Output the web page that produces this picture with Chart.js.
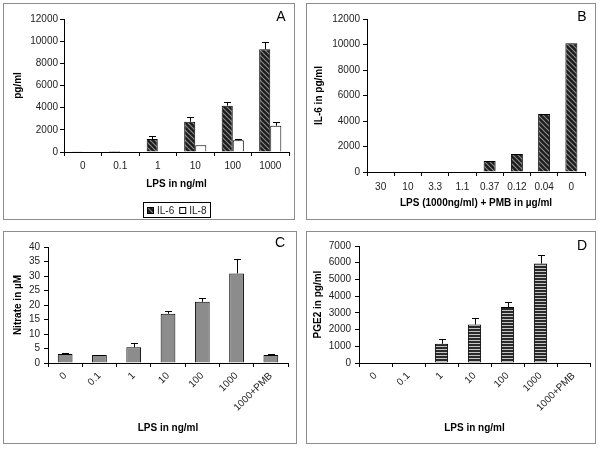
<!DOCTYPE html>
<html>
<head>
<meta charset="utf-8">
<script src="https://cdn.jsdelivr.net/npm/chart.js@4.4.1/dist/chart.umd.min.js"></script>
<style>
  body { margin: 0; background: #fff; width: 600px; height: 449px; position: relative; overflow: hidden; }
  .panel { position: absolute; border: 1px solid #8c8c8c; box-sizing: border-box; }
  .panel canvas { position: absolute; left: 0; top: 0; }
</style>
</head>
<body>
<div class="panel" id="pA"><canvas id="cA"></canvas></div>
<div class="panel" id="pB"><canvas id="cB"></canvas></div>
<div class="panel" id="pC"><canvas id="cC"></canvas></div>
<div class="panel" id="pD"><canvas id="cD"></canvas></div>
<script>
// A: cytokines vs LPS dose
const lpsDoses = ["0", "0.1", "1", "10", "100", "1000"];
const il6 = [60, 90, 1170, 2730, 4180, 9270];
const il6Err = [0, 0, 280, 400, 360, 630];
const il8 = [40, 50, 40, 600, 1050, 2370];
const il8Err = [0, 0, 0, 0, 90, 310];
const pgTicksA = { min: 0, max: 12000, step: 2000 };

// B: IL-6 with polymyxin B
const pmbDoses = ["30", "10", "3.3", "1.1", "0.37", "0.12", "0.04", "0"];
const il6Pmb = [0, 0, 0, 0, 860, 1410, 4550, 10090];

// C: nitrate
const lpsDosesPmb = ["0", "0.1", "1", "10", "100", "1000", "1000+PMB"];
const nitrate = [3.1, 2.8, 5.4, 17.0, 21.1, 30.9, 2.8];
const nitrateErr = [0.4, 0, 1.6, 1.1, 1.4, 5.0, 0.2];

// D: PGE2
const pge2 = [0, 0, 1150, 2300, 3350, 5950, 0];
const pge2Err = [0, 0, 300, 420, 300, 540, 0];

Chart.defaults.font.family = '"Liberation Sans", Arial, sans-serif';
Chart.defaults.font.size = 10;
Chart.defaults.color = '#222';

function hatch() {
  const c = document.createElement('canvas');
  c.width = 5; c.height = 5;
  const g = c.getContext('2d');
  g.fillStyle = '#1c1c1c';
  g.fillRect(0, 0, 5, 5);
  g.strokeStyle = '#8a8a8a';
  g.lineWidth = 1.2;
  [[-1, -1, 6, 6], [-1, 4, 1, 6], [4, -1, 6, 1]].forEach(s => {
    g.beginPath(); g.moveTo(s[0], s[1]); g.lineTo(s[2], s[3]); g.stroke();
  });
  return g.createPattern(c, 'repeat');
}

function stripes() {
  const c = document.createElement('canvas');
  c.width = 4; c.height = 3;
  const g = c.getContext('2d');
  g.fillStyle = '#2a2a2a';
  g.fillRect(0, 0, 4, 3);
  g.fillStyle = '#c4c4c4';
  g.fillRect(0, 0, 4, 1);
  return g.createPattern(c, 'repeat');
}

const errorBars = {
  id: 'errorBars',
  afterDatasetsDraw(chart) {
    const ctx = chart.ctx, y = chart.scales.y;
    chart.data.datasets.forEach((ds, i) => {
      if (!ds.errors) return;
      chart.getDatasetMeta(i).data.forEach((bar, j) => {
        const e = ds.errors[j];
        if (!e) return;
        const top = y.getPixelForValue(ds.data[j] + e);
        ctx.save();
        ctx.strokeStyle = '#000';
        ctx.lineWidth = 1;
        ctx.beginPath();
        ctx.moveTo(Math.round(bar.x) + 0.5, bar.y);
        ctx.lineTo(Math.round(bar.x) + 0.5, Math.round(top) + 0.5);
        ctx.moveTo(Math.round(bar.x) - 3, Math.round(top) + 0.5);
        ctx.lineTo(Math.round(bar.x) + 4, Math.round(top) + 0.5);
        ctx.stroke();
        ctx.restore();
      });
    });
  }
};

const panelTag = {
  id: 'panelTag',
  afterDraw(chart, args, opts) {
    const ctx = chart.ctx;
    ctx.save();
    ctx.font = '14px "Liberation Sans", Arial, sans-serif';
    ctx.fillStyle = '#000';
    ctx.textAlign = 'center';
    ctx.textBaseline = 'middle';
    ctx.fillText(opts.text, opts.x, opts.y);
    ctx.restore();
  }
};

const boxLegend = {
  id: 'boxLegend',
  afterDraw(chart, args, opts) {
    if (!opts.y) return;
    const ctx = chart.ctx;
    ctx.save();
    ctx.font = '10px "Liberation Sans", Arial, sans-serif';
    const sw = 7, gap = 3, space = 5, pad = 4;
    const items = chart.data.datasets.map(ds => ({ ds, w: ctx.measureText(ds.label).width }));
    const total = items.reduce((a, it) => a + sw + gap + it.w, 0) + space * (items.length - 1) + pad * 2;
    const cx = (chart.chartArea.left + chart.chartArea.right) / 2;
    let x = Math.round(cx - total / 2);
    const y = opts.y;
    ctx.strokeStyle = '#000';
    ctx.lineWidth = 1;
    ctx.strokeRect(x + 0.5, y - 7.5, Math.round(total), 15);
    x += pad;
    items.forEach(it => {
      ctx.fillStyle = it.ds.backgroundColor;
      ctx.fillRect(x, y - 3, sw, sw);
      ctx.strokeRect(x + 0.5, y - 2.5, sw - 1, sw - 1);
      x += sw + gap;
      ctx.fillStyle = '#222';
      ctx.textBaseline = 'middle';
      ctx.fillText(it.ds.label, x, y + 1);
      x += it.w + space;
    });
    ctx.restore();
  }
};

function makePanel(id, box, area, L, labels, datasets, yRange, titles) {
  const wrap = document.getElementById('p' + id);
  wrap.style.left = box.x + 'px';
  wrap.style.top = box.y + 'px';
  wrap.style.width = box.w + 'px';
  wrap.style.height = box.h + 'px';
  const ox = box.x + 1, oy = box.y + 1;
  const W = box.w - 2, H = box.h - 2;
  const cv = document.getElementById('c' + id);
  cv.width = W; cv.height = H;
  const left = area.l - ox, right = area.r - ox, top = area.t - oy, bottom = area.b - oy;
  const xBottom = L.xTitleY - oy + 6 + 2;
  new Chart(cv, {
    type: 'bar',
    data: { labels, datasets },
    options: {
      responsive: false,
      animation: false,
      layout: { padding: { left: 0, top: top, right: W - right, bottom: H - xBottom } },
      plugins: {
        legend: { display: false },
        tooltip: { enabled: false },
        panelTag: { text: id, x: L.tag[0] - ox, y: L.tag[1] - oy },
        boxLegend: { y: L.legendY ? L.legendY - oy : 0 }
      },
      scales: {
        x: {
          grid: { offset: true, drawOnChartArea: false, tickLength: 4, color: '#000' },
          border: { color: '#000' },
          ticks: { autoSkip: false, minRotation: L.rot, maxRotation: L.rot, padding: L.xPad, color: '#222' },
          title: { display: true, text: titles[0], color: '#000', font: { weight: 'bold', size: 10 }, padding: { top: 0, bottom: 2 } },
          afterFit(s) { s.height = xBottom - bottom; }
        },
        y: {
          min: yRange.min, max: yRange.max,
          grid: { drawOnChartArea: false, tickLength: 4, color: '#000' },
          border: { color: '#000' },
          ticks: { stepSize: yRange.step, autoSkip: false, padding: L.yPad, color: '#222', callback: v => String(v) },
          title: { display: true, text: titles[1], color: '#000', font: { weight: 'bold', size: 10 }, padding: { top: L.yTitleX - ox - 6, bottom: 0 } },
          afterFit(s) { s.width = left; }
        }
      }
    },
    plugins: [errorBars, panelTag, boxLegend]
  });
}

const barStyle = { borderColor: '#000', borderWidth: 1, barPercentage: 1 };

makePanel('A', { x: 3, y: 3, w: 292, h: 217 }, { l: 64, r: 289, t: 19, b: 152 },
  { tag: [281, 17], xTitleY: 184, yTitleX: 18, legendY: 210, rot: 0, xPad: 4, yPad: 2 },
  lpsDoses,
  [
    Object.assign({ label: 'IL-6', data: il6, errors: il6Err, backgroundColor: hatch(), categoryPercentage: 0.59 }, barStyle),
    Object.assign({ label: 'IL-8', data: il8, errors: il8Err, backgroundColor: '#fff', categoryPercentage: 0.59 }, barStyle)
  ],
  pgTicksA, ['LPS in ng/ml', 'pg/ml']);

makePanel('B', { x: 306, y: 3, w: 290, h: 217 }, { l: 367, r: 585, t: 19, b: 172 },
  { tag: [582, 17], xTitleY: 203, yTitleX: 319, rot: 0, xPad: 5, yPad: 3 },
  pmbDoses,
  [Object.assign({ label: 'IL-6', data: il6Pmb, backgroundColor: hatch(), categoryPercentage: 0.44 }, barStyle)],
  pgTicksA, ['LPS (1000ng/ml) + PMB in \u00b5g/ml', 'IL-6 in pg/ml']);

makePanel('C', { x: 3, y: 231, w: 294, h: 213 }, { l: 48, r: 288, t: 247, b: 363 },
  { tag: [280, 243], xTitleY: 428, yTitleX: 18, rot: 45, xPad: 3, yPad: 4 },
  lpsDosesPmb,
  [Object.assign({ label: 'Nitrate', data: nitrate, errors: nitrateErr, backgroundColor: '#8c8c8c', categoryPercentage: 0.43 }, barStyle)],
  { min: 0, max: 40, step: 5 }, ['LPS in ng/ml', 'Nitrate in \u00b5M']);

makePanel('D', { x: 306, y: 231, w: 290, h: 213 }, { l: 359, r: 590, t: 246, b: 363 },
  { tag: [582, 246], xTitleY: 428, yTitleX: 318, rot: 45, xPad: 3, yPad: 4 },
  lpsDosesPmb,
  [Object.assign({ label: 'PGE2', data: pge2, errors: pge2Err, backgroundColor: stripes(), categoryPercentage: 0.4 }, barStyle)],
  { min: 0, max: 7000, step: 1000 }, ['LPS in ng/ml', 'PGE2 in pg/ml']);
</script>
</body>
</html>
